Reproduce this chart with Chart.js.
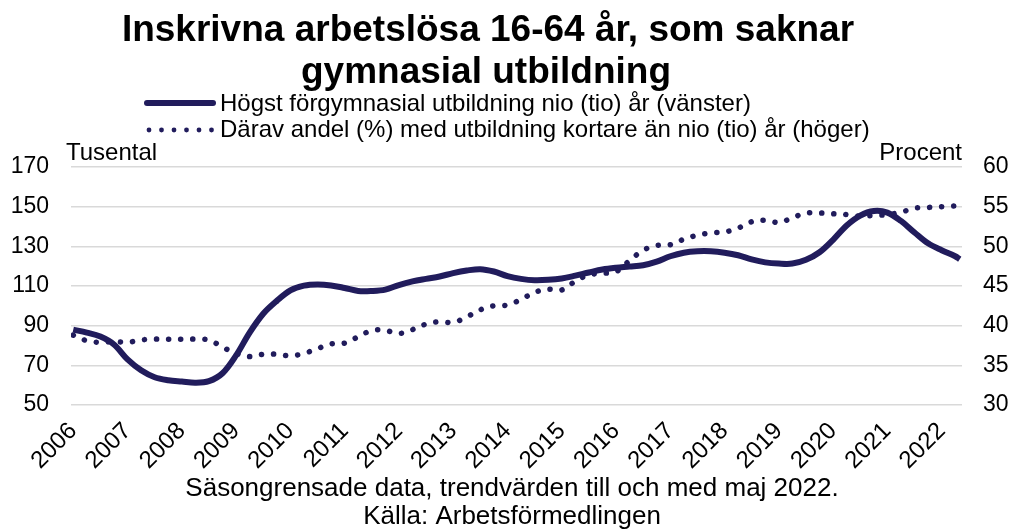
<!DOCTYPE html>
<html>
<head>
<meta charset="utf-8">
<script src="https://cdn.jsdelivr.net/npm/chart.js@4/dist/chart.umd.min.js"></script>
<style>
html,body{margin:0;padding:0;background:#fff;}
#wrap{width:1011px;height:529px;}
</style>
</head>
<body>
<div id="wrap"><canvas id="chart" width="1011" height="529"></canvas></div>
<script>
// Perioder (år-månad), kvartalsvis avläsning + sista månaden
const periods=[
"2006-01","2006-04","2006-07","2006-10",
"2007-01","2007-04","2007-07","2007-10",
"2008-01","2008-04","2008-07","2008-10",
"2009-01","2009-04","2009-07","2009-10",
"2010-01","2010-04","2010-07","2010-10",
"2011-01","2011-04","2011-07","2011-10",
"2012-01","2012-04","2012-07","2012-10",
"2013-01","2013-04","2013-07","2013-10",
"2014-01","2014-04","2014-07","2014-10",
"2015-01","2015-04","2015-07","2015-10",
"2016-01","2016-04","2016-07","2016-10",
"2017-01","2017-04","2017-07","2017-10",
"2018-01","2018-04","2018-07","2018-10",
"2019-01","2019-04","2019-07","2019-10",
"2020-01","2020-04","2020-07","2020-10",
"2021-01","2021-04","2021-07","2021-10",
"2022-01","2022-04","2022-05"
];

// Högst förgymnasial utbildning (tusental, vänster axel)
const forgymnasial=[
88.0,86.5,84.5,80.5,
73.0,67.5,64.0,62.5,
61.8,61.2,62.0,66.0,
75.0,86.5,96.0,102.5,
107.8,110.2,110.8,110.3,
109.0,107.5,107.5,108.2,
110.5,112.3,113.6,114.8,
116.5,117.8,118.5,117.3,
115.0,113.6,112.9,113.1,
113.8,115.2,116.8,118.3,
119.2,119.8,120.5,122.3,
125.0,126.8,127.5,127.5,
126.8,125.5,123.4,121.9,
121.3,121.3,123.2,127.0,
133.3,140.5,145.5,147.8,
147.0,142.8,137.0,131.5,
128.0,125.0,123.5
];

// Därav andel med utbildning kortare än nio (tio) år (procent, höger axel)
const andelKortare=[
38.8,38.1,37.9,38.0,
37.9,38.2,38.3,38.3,
38.3,38.3,38.2,37.3,
36.5,36.1,36.4,36.4,
36.2,36.5,37.1,37.7,
37.8,38.6,39.4,39.4,
39.0,39.5,40.2,40.5,
40.4,41.1,42.0,42.5,
42.6,43.3,44.2,44.6,
44.5,45.6,46.4,46.6,
46.8,48.2,49.5,50.1,
50.2,50.9,51.4,51.7,
51.8,52.3,53.1,53.3,
53.0,53.6,54.2,54.2,
54.1,54.0,53.8,53.9,
54.0,54.3,54.8,54.9,
55.0,55.1,55.2
];

const leftTicks=[50,170,20];
const rightTicks=[30,60,5];
const yearTicks=[2006,2007,2008,2009,2010,2011,2012,2013,2014,2015,2016,2017,2018,2019,2020,2021,2022];

const navy="#211c5c";
const font="'Liberation Sans', Arial, sans-serif";

function monthIndex(p){
  const [y,m]=p.split("-").map(Number);
  return (y-2006)*12+(m-1);
}

const textPlugin={
  id:"texts",
  afterDraw(chart){
    const ctx=chart.ctx;
    const area=chart.chartArea;
    ctx.save();
    ctx.fillStyle="#000";
    ctx.textBaseline="middle";

    // rubrik
    ctx.font="bold 37px "+font;
    ctx.textAlign="center";
    ctx.fillText("Inskrivna arbetslösa 16-64 år, som saknar",488,31);
    ctx.fillText("gymnasial utbildning",486,73);

    // teckenförklaring
    ctx.strokeStyle=navy;
    ctx.lineCap="round";
    ctx.lineWidth=6;
    ctx.beginPath();
    ctx.moveTo(147,103);
    ctx.lineTo(213,103);
    ctx.stroke();
    ctx.fillStyle=navy;
    for(let k=0;k<6;k++){
      ctx.beginPath();
      ctx.arc(149+k*12.5,130,2.4,0,Math.PI*2);
      ctx.fill();
    }
    ctx.fillStyle="#000";
    ctx.font="24px "+font;
    ctx.textAlign="left";
    ctx.fillText("Högst förgymnasial utbildning nio (tio) år (vänster)",220,104);
    ctx.fillText("Därav andel (%) med utbildning kortare än nio (tio) år (höger)",220,130);

    // enheter
    ctx.fillText("Tusental",area.left-5,153);
    ctx.textAlign="right";
    ctx.fillText("Procent",area.right,153);

    // fotnot
    ctx.textAlign="center";
    ctx.font="26px "+font;
    ctx.fillText("Säsongrensade data, trendvärden till och med maj 2022.",512,489);
    ctx.fillText("Källa: Arbetsförmedlingen",512,517);
    ctx.restore();
  }
};

new Chart(document.getElementById("chart"),{
  type:"line",
  data:{
    datasets:[
      {
        label:"Högst förgymnasial utbildning nio (tio) år (vänster)",
        data:periods.map((p,i)=>({x:monthIndex(p),y:forgymnasial[i]})),
        borderColor:navy,
        borderWidth:6,
        pointRadius:0,
        tension:0.35,
        yAxisID:"y",
        order:2
      },
      {
        label:"Därav andel (%) med utbildning kortare än nio (tio) år (höger)",
        data:periods.map((p,i)=>({x:monthIndex(p),y:andelKortare[i]})),
        borderColor:navy,
        borderWidth:5.5,
        borderDash:[0.1,12],
        borderCapStyle:"round",
        pointRadius:0,
        tension:0.35,
        yAxisID:"y1",
        order:1
      }
    ]
  },
  options:{
    responsive:false,
    animation:false,
    devicePixelRatio:1,
    layout:{padding:{top:167,bottom:0,left:0,right:0}},
    plugins:{
      legend:{display:false},
      title:{display:false},
      tooltip:{enabled:false}
    },
    scales:{
      x:{
        type:"linear",
        min:-0.5,
        max:196.5,
        grid:{display:false},
        border:{display:false},
        afterBuildTicks(scale){
          scale.ticks=yearTicks.map(y=>({value:(y-2006)*12}));
        },
        afterFit(scale){scale.height=124;},
        ticks:{
          autoSkip:false,
          minRotation:45,
          maxRotation:45,
          padding:4,
          color:"#000",
          font:{family:font,size:24},
          callback:v=>String(2006+Math.round(v/12))
        }
      },
      y:{
        position:"left",
        min:leftTicks[0],
        max:leftTicks[1],
        grid:{color:"#d9d9d9",lineWidth:1.5,drawTicks:false},
        border:{display:false},
        afterFit(scale){scale.width=71;},
        ticks:{stepSize:leftTicks[2],padding:22,color:"#000",font:{family:font,size:23}}
      },
      y1:{
        position:"right",
        min:rightTicks[0],
        max:rightTicks[1],
        grid:{display:false,drawTicks:false},
        border:{display:false},
        afterFit(scale){scale.width=49;},
        ticks:{stepSize:rightTicks[2],padding:21,color:"#000",font:{family:font,size:23}}
      }
    }
  },
  plugins:[textPlugin]
});
</script>
</body>
</html>
